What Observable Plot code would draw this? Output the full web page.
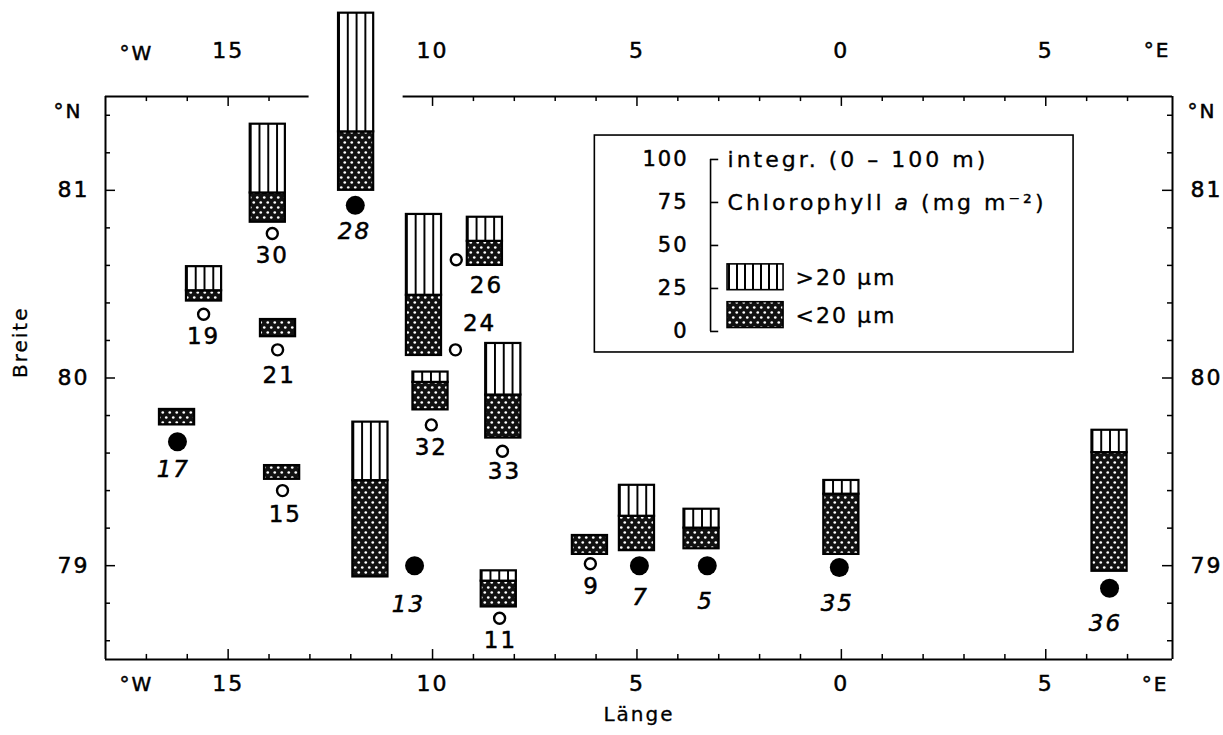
<!DOCTYPE html>
<html>
<head>
<meta charset="utf-8">
<script src="https://cdn.jsdelivr.net/npm/d3@7"></script>
<script src="https://cdn.jsdelivr.net/npm/@observablehq/plot@0.6"></script>
<style>
  body { margin: 0; background: #fff; }
  #chart svg text { letter-spacing: 2px; }
</style>
</head>
<body>
<div id="chart"></div>
<script>
// Stations of the transect, their positions (degrees, east positive) and
// integrated (0-100 m) chlorophyll a in mg m^-2, split by size fraction.
const station      = [30, 28, 19, 21, 17, 15, 13, 24, 26, 32, 33, 11, 9, 7, 5, 35, 36];
const stationLon   = [-13.92, -11.89, -15.60, -13.79, -16.24, -13.67, -10.44, -9.44, -9.42, -10.03, -8.29, -8.36, -6.14, -4.94, -3.28, -0.05, 6.56];
const stationLat   = [80.77, 80.92, 80.34, 80.15, 79.66, 79.40, 79.00, 80.15, 80.63, 79.75, 79.61, 78.72, 79.01, 79.00, 79.00, 78.99, 78.88];
const filledMarker = [false, true, false, false, true, false, true, false, false, false, false, false, false, true, true, true, true];
// where each column stands on the map (centre longitude, base latitude)
const barLon       = [-14.03, -11.87, -15.59, -13.78, -16.25, -13.68, -11.52, -10.21, -8.72, -10.05, -8.27, -8.38, -6.15, -5.00, -3.42, 0.00, 6.56];
const barLat       = [80.83, 81.00, 80.41, 80.22, 79.75, 79.46, 78.94, 80.12, 80.60, 79.83, 79.68, 78.78, 79.06, 79.08, 79.09, 79.06, 78.97];
const chlSmall     = [17, 34, 6, 10, 9, 8, 56, 35, 14, 16, 25, 15, 11, 20, 12, 35, 69]; // <20 µm
const chlLarge     = [40, 69, 14, 0, 0, 0, 34, 47, 14, 6, 30, 6, 0, 18, 11, 8, 13];    // >20 µm
// station number placement
const labelLon     = [-13.92, -11.91, -15.60, -13.75, -16.34, -13.60, -10.59, -8.85, -8.68, -10.03, -8.24, -8.34, -6.11, -4.91, -3.32, -0.10, 6.46];
const labelLat     = [80.65, 80.78, 80.22, 80.01, 79.51, 79.27, 78.79, 80.29, 80.49, 79.63, 79.50, 78.60, 78.89, 78.83, 78.81, 78.80, 78.69];

// axes
const lonMajor      = [-15, -10, -5, 0, 5];
const lonTickLabels = ["15", "10", "5", "0", "5"];
const latMajor      = [79, 80, 81];
const latTickLabels = ["79", "80", "81"];
const lonTicks = d3.range(-17, 8);                         // every degree
const latTicks = d3.range(786, 815, 2).map(d => d / 10);   // every 0.2 degree

// legend scale
const keyValues = [0, 25, 50, 75, 100];
const keyLabels = ["0", "25", "50", "75", "100"];
const keyTitle1 = "integr. (0 \u2013 100 m)";
const keyTitle2 = "Chlorophyll a (mg m\u207B\u00B2)";
const keyClasses = [">20 \u03BCm", "<20 \u03BCm"];

const rows = station.map((id, i) => ({
  id, lon: stationLon[i], lat: stationLat[i], filled: filledMarker[i],
  barLon: barLon[i], barLat: barLat[i], small: chlSmall[i], large: chlLarge[i],
  labelLon: labelLon[i], labelLat: labelLat[i]
}));

const X0 = -18, X1 = 8.1, Y0 = 78.5, Y1 = 81.5;
const K = 0.009165;      // degrees of latitude per mg m^-2
const HALF = 0.43;       // half column width, degrees of longitude
const TX_MAJ = 0.245, TX_MIN = 0.122;   // tick lengths along longitude
const TY_MAJ = 0.053, TY_MIN = 0.027;   // tick lengths along latitude

// legend anchor: the 0 mark of its scale
const KEY_LON = -3.2, KEY_LAT = 80.248;
const KEY_BOX = {x1: -6.03, x2: 5.68, y1: 80.136, y2: 81.292};

const isLatMajor = d => Math.abs(d - Math.round(d)) < 1e-6;
const topOf = d => d.barLat + (d.small + d.large) * K;

// slightly heavier lettering, like a pen plotter
const ink = {fill: "black", stroke: "black", strokeWidth: 0.5};

const plot = Plot.plot({
  width: 1223,
  height: 735,
  marginLeft: 105,
  marginRight: 51,
  marginTop: 96,
  marginBottom: 76,
  style: {fontFamily: "DejaVu Sans, sans-serif", background: "white", color: "black"},
  x: {domain: [X0, X1], axis: null},
  y: {domain: [Y0, Y1], axis: null},
  marks: [
    // frame
    Plot.ruleX([X0, X1], {strokeWidth: 2}),
    Plot.ruleY([Y0, Y1], {strokeWidth: 2}),
    // inward ticks on all four sides
    Plot.ruleY(latTicks, {y: d => d, x1: () => X0, x2: d => X0 + (isLatMajor(d) ? TX_MAJ : TX_MIN), strokeWidth: 1.5}),
    Plot.ruleY(latTicks, {y: d => d, x1: d => X1 - (isLatMajor(d) ? TX_MAJ : TX_MIN), x2: () => X1, strokeWidth: 1.5}),
    Plot.ruleX(lonTicks, {x: d => d, y1: () => Y0, y2: d => Y0 + (lonMajor.includes(d) ? TY_MAJ : TY_MIN), strokeWidth: 1.5}),
    Plot.ruleX(lonTicks, {x: d => d, y1: d => Y1 - (lonMajor.includes(d) ? TY_MAJ : TY_MIN), y2: () => Y1, strokeWidth: 1.5}),
    // open the top border where a column rises through it
    Plot.rect(rows.filter(d => topOf(d) > Y1), {
      x1: d => d.barLon - 1.15, x2: d => d.barLon + 1.15,
      y1: () => Y1 - 0.07, y2: () => Y1 + 0.02, fill: "white"
    }),
    // tick labels
    Plot.text(lonMajor, {x: d => d, text: (d, i) => lonTickLabels[i], frameAnchor: "top", dy: -54, fontSize: 22, ...ink}),
    Plot.text(lonMajor, {x: d => d, text: (d, i) => lonTickLabels[i], frameAnchor: "bottom", dy: 31, fontSize: 22, ...ink}),
    Plot.text(latMajor, {y: d => d, text: (d, i) => latTickLabels[i], frameAnchor: "left", dx: -16, textAnchor: "end", fontSize: 22, ...ink}),
    Plot.text(latMajor, {y: d => d, text: (d, i) => latTickLabels[i], frameAnchor: "right", dx: 18, textAnchor: "start", fontSize: 22, ...ink}),
    Plot.text(["\u00B0W"], {text: d => d, frameAnchor: "top-left", dx: 14, dy: -51, fontSize: 20, ...ink}),
    Plot.text(["\u00B0W"], {text: d => d, frameAnchor: "bottom-left", dx: 14, dy: 31, fontSize: 20, ...ink}),
    Plot.text(["\u00B0E"], {text: d => d, frameAnchor: "top-right", dx: -2, dy: -54, fontSize: 20, ...ink}),
    Plot.text(["\u00B0E"], {text: d => d, frameAnchor: "bottom-right", dx: -4, dy: 31, fontSize: 20, ...ink}),
    Plot.text(["\u00B0N"], {text: d => d, frameAnchor: "top-left", dx: -52, dy: 7, fontSize: 20, ...ink}),
    Plot.text(["\u00B0N"], {text: d => d, frameAnchor: "top-right", dx: 44, dy: 7, fontSize: 20, ...ink}),
    // axis titles
    Plot.text(["Breite"], {text: d => d, frameAnchor: "left", dx: -85, rotate: -90, fontSize: 20, fill: "black", stroke: "black", strokeWidth: 0.3}),
    Plot.text(["L\u00E4nge"], {text: d => d, frameAnchor: "bottom", dy: 61, fontSize: 20, fill: "black", stroke: "black", strokeWidth: 0.3}),

    // columns: <20 µm at the base, >20 µm stacked on top
    Plot.rect(rows, {
      x1: d => d.barLon - HALF, x2: d => d.barLon + HALF,
      y1: d => d.barLat, y2: d => d.barLat + d.small * K,
      fill: "url(#fine)", stroke: "black", strokeWidth: 2.2
    }),
    Plot.rect(rows.filter(d => d.large > 0), {
      x1: d => d.barLon - HALF, x2: d => d.barLon + HALF,
      y1: d => d.barLat + d.small * K, y2: d => topOf(d),
      fill: "url(#coarse)", stroke: "black", strokeWidth: 2.2
    }),

    // station markers and numbers
    Plot.dot(rows.filter(d => !d.filled), {x: "lon", y: "lat", r: 5.5, stroke: "black", strokeWidth: 2.4, fill: "white"}),
    Plot.dot(rows.filter(d => d.filled), {x: "lon", y: "lat", r: 9.5, fill: "black"}),
    Plot.text(rows.filter(d => !d.filled), {x: "labelLon", y: "labelLat", text: d => String(d.id), fontSize: 23, ...ink}),
    Plot.text(rows.filter(d => d.filled), {x: "labelLon", y: "labelLat", text: d => String(d.id), fontSize: 23, fontStyle: "italic", ...ink}),

    // legend
    Plot.rect([KEY_BOX], {x1: "x1", x2: "x2", y1: "y1", y2: "y2", fill: "white", stroke: "black", strokeWidth: 1.6}),
    Plot.ruleX([KEY_LON], {y1: () => KEY_LAT, y2: () => KEY_LAT + 100 * K, strokeWidth: 1.6}),
    Plot.ruleY(keyValues, {y: d => KEY_LAT + d * K, x1: () => KEY_LON, x2: () => KEY_LON + 0.2, strokeWidth: 1.6}),
    Plot.text(keyValues, {x: () => KEY_LON, y: d => KEY_LAT + d * K, text: (d, i) => keyLabels[i], dx: -22, textAnchor: "end", fontSize: 21, ...ink}),
    Plot.text([keyTitle1, keyTitle2], {x: () => KEY_LON, y: (d, i) => KEY_LAT + (i === 0 ? 100 : 75) * K, text: d => d, dx: 17, textAnchor: "start", fontSize: 22, fill: "black", stroke: "black", strokeWidth: 0.35}),
    Plot.rect([0], {x1: () => KEY_LON + 0.416, x2: () => KEY_LON + 1.786, y1: () => KEY_LAT + 24 * K, y2: () => KEY_LAT + 39 * K, fill: "url(#coarseKey)", stroke: "black", strokeWidth: 1.6}),
    Plot.rect([0], {x1: () => KEY_LON + 0.416, x2: () => KEY_LON + 1.786, y1: () => KEY_LAT + 2 * K, y2: () => KEY_LAT + 17 * K, fill: "url(#fine)", stroke: "black", strokeWidth: 1.6}),
    Plot.text(keyClasses, {x: () => KEY_LON, y: (d, i) => KEY_LAT + (i === 0 ? 31 : 9) * K, text: d => d, dx: 85, textAnchor: "start", fontSize: 22, fill: "black", stroke: "black", strokeWidth: 0.35})
  ]
});

// fill patterns for the two size fractions
const svg = d3.select(plot);
const defs = svg.insert("defs", ":first-child");
const coarse = defs.append("pattern").attr("id", "coarse")
  .attr("patternUnits", "objectBoundingBox").attr("patternContentUnits", "objectBoundingBox")
  .attr("width", 0.25).attr("height", 1);
coarse.append("rect").attr("width", 0.25).attr("height", 1).attr("fill", "white");
coarse.append("rect").attr("width", 0.055).attr("height", 1).attr("fill", "black");

const coarseKey = defs.append("pattern").attr("id", "coarseKey")
  .attr("patternUnits", "userSpaceOnUse").attr("width", 8).attr("height", 10);
coarseKey.append("rect").attr("width", 8).attr("height", 10).attr("fill", "white");
coarseKey.append("rect").attr("width", 2).attr("height", 10).attr("fill", "black");

const fine = defs.append("pattern").attr("id", "fine")
  .attr("patternUnits", "userSpaceOnUse").attr("width", 7).attr("height", 10);
fine.append("rect").attr("width", 7).attr("height", 10).attr("fill", "#111");
fine.append("circle").attr("cx", 1.75).attr("cy", 2.5).attr("r", 1.35).attr("fill", "white");
fine.append("circle").attr("cx", 5.25).attr("cy", 7.5).attr("r", 1.35).attr("fill", "white");

// legend wording: wider tracking, italic "a" in chlorophyll a
svg.selectAll("text").each(function () {
  const t = this.textContent;
  if (t === keyTitle1 || t === keyTitle2) {
    this.style.letterSpacing = "3px";
  }
  if (t === keyTitle2) {
    const el = d3.select(this);
    el.text(null);
    el.append("tspan").text("Chlorophyll ");
    el.append("tspan").attr("font-style", "italic").text("a");
    el.append("tspan").text(" (mg m\u207B\u00B2)");
  }
});

document.getElementById("chart").append(plot);
</script>
</body>
</html>
